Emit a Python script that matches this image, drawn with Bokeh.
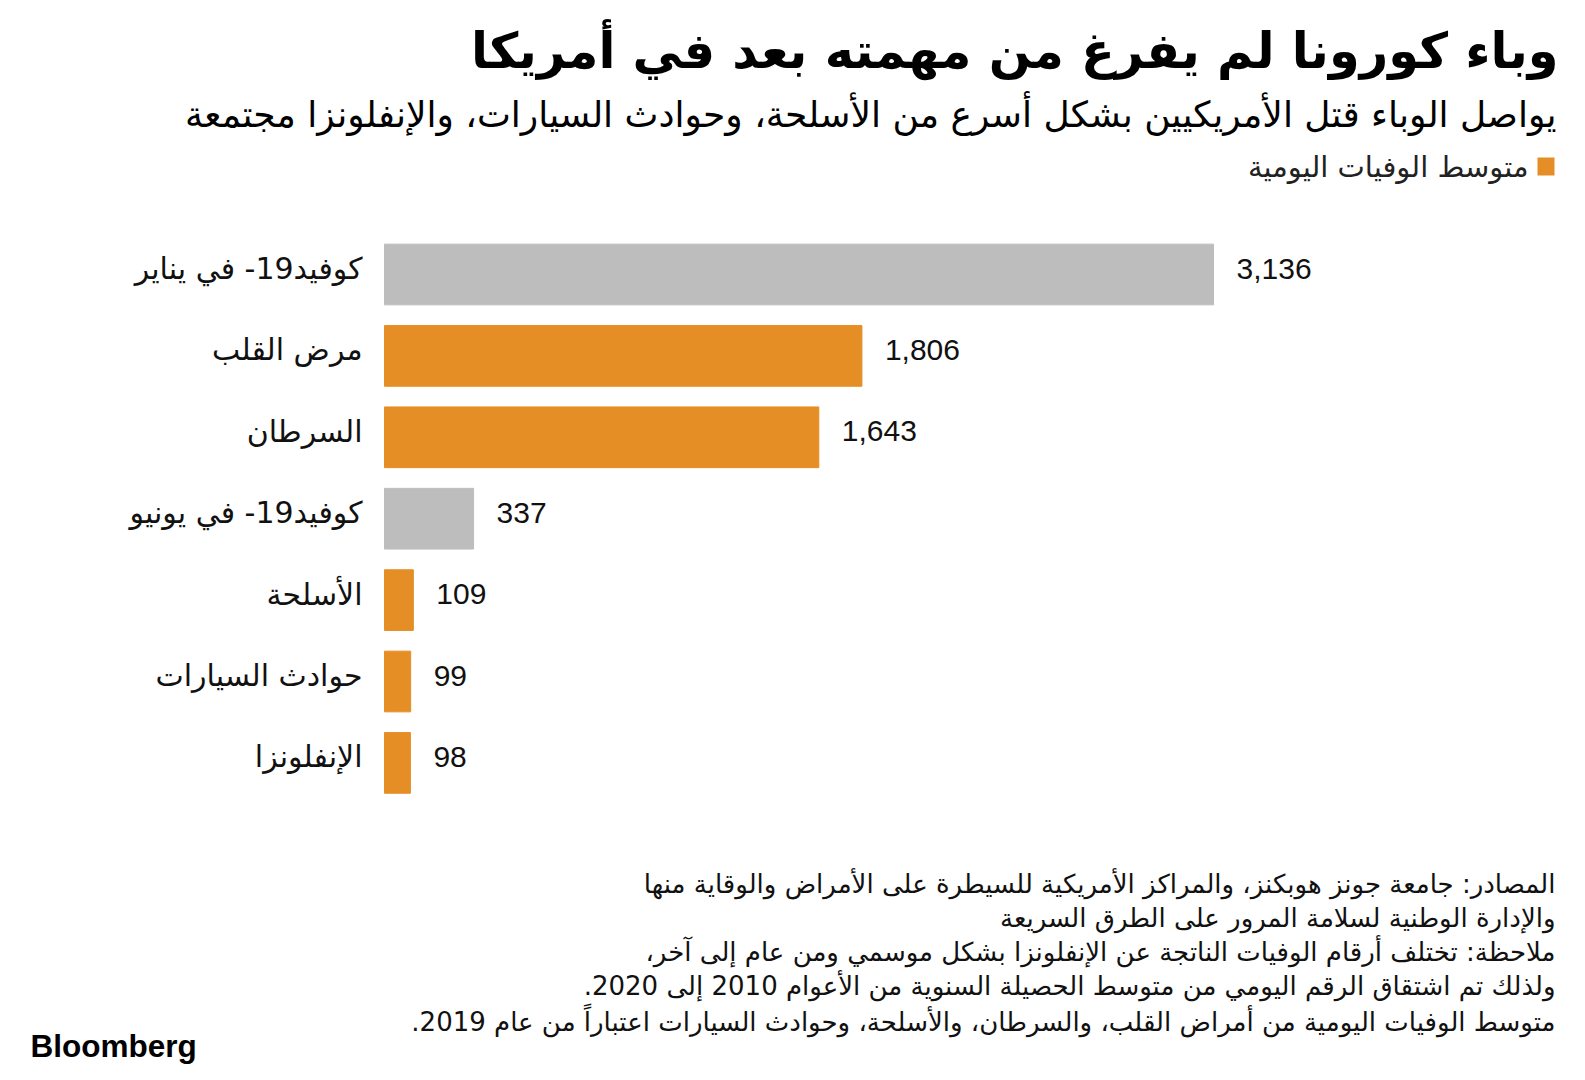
from bokeh.plotting import figure
from bokeh.models import Range1d, Label, BoxAnnotation, ColumnDataSource
from bokeh.core.properties import value
from bokeh.embed import file_html
from bokeh.resources import INLINE

# ---- data ----
categories = ["كوفيد19- في يناير", "مرض القلب", "السرطان", "كوفيد19- في يونيو",
              "الأسلحة", "حوادث السيارات", "الإنفلونزا"]
deaths = [3136, 1806, 1643, 337, 109, 99, 98]
is_covid = [True, False, False, True, False, False, False]

title = "وباء كورونا لم يفرغ من مهمته بعد في أمريكا"
subtitle = "يواصل الوباء قتل الأمريكيين بشكل أسرع من الأسلحة، وحوادث السيارات، والإنفلونزا مجتمعة"
legend_label = "متوسط الوفيات اليومية"
footnotes = [
    "المصادر: جامعة جونز هوبكنز، والمراكز الأمريكية للسيطرة على الأمراض والوقاية منها",
    "والإدارة الوطنية لسلامة المرور على الطرق السريعة",
    "ملاحظة: تختلف أرقام الوفيات الناتجة عن الإنفلونزا بشكل موسمي ومن عام إلى آخر،",
    "ولذلك تم اشتقاق الرقم اليومي من متوسط الحصيلة السنوية من الأعوام 2010 إلى 2020.",
    "متوسط الوفيات اليومية من أمراض القلب، والسرطان، والأسلحة، وحوادث السيارات اعتباراً من عام 2019.",
]
brand = "Bloomberg"

ORANGE = "#E58E26"
GRAY = "#BDBDBD"
ARABIC = "DejaVu Sans"

def rtl(s):
    return "\u200f" + s + "\u200f"

# ---- layout (page pixels) ----
W, H = 1577, 1072
BAR_X0 = 384          # pixel where value 0 sits
PX_PER_UNIT = 0.26435 # horizontal scale
ROW0 = 274            # centre of first row
ROW_STEP = 81.4       # row pitch

x_range = Range1d(-BAR_X0 / PX_PER_UNIT, (W - BAR_X0) / PX_PER_UNIT)
# rows indexed 0..n-1 from top; inverted range
y_range = Range1d((H - ROW0) / ROW_STEP, (0 - ROW0) / ROW_STEP)

p = figure(width=W, height=H, output_backend="svg", toolbar_location=None,
           x_range=x_range, y_range=y_range, min_border=0,
           x_axis_location=None, y_axis_location=None)
p.outline_line_color = None
p.grid.visible = False
p.background_fill_color = "white"
p.border_fill_color = "white"

src = ColumnDataSource(dict(
    row=list(range(len(categories))), cat=categories, val=deaths,
    zero=[0] * len(deaths),
    color=[GRAY if c else ORANGE for c in is_covid],
    lab=[f"{v:,}" for v in deaths],
))
p.hbar(y="row", right="val", left=0, height=60.7 / ROW_STEP, color="color", source=src)
p.text(x="val", y="row", text="lab", source=src, x_offset=23, y_offset=-6,
       text_baseline="middle", text_align="left", text_font=value("Liberation Sans"),
       text_font_size="30px", text_color="#111111")
p.text(x="zero", y="row", text="cat", source=src, x_offset=-22, y_offset=-6,
       text_baseline="middle", text_align="right", text_font=value(ARABIC),
       text_font_size="30px", text_color="#111111")

def add_label(text, px, py, size, align="right", baseline="middle", font=ARABIC,
              style="normal", color="#000000"):
    p.add_layout(Label(x=px, y=H - py, x_units="screen", y_units="screen", text=text,
                       text_font=font, text_font_size=size, text_font_style=style,
                       text_align=align, text_baseline=baseline, text_color=color))

add_label(rtl(title), 1558, 50, "49.5px", style="bold")
add_label(rtl(subtitle), 1556, 114, "36px")
add_label(rtl(legend_label), 1528, 166, "29px", color="#222222")
p.add_layout(BoxAnnotation(left=1537, right=1554, top=H - 157, bottom=H - 175,
                           left_units="screen", right_units="screen", top_units="screen",
                           bottom_units="screen", fill_color=ORANGE, fill_alpha=1,
                           line_color=None))

foot_y = [883, 917, 951, 985, 1021]
for t, y in zip(footnotes, foot_y):
    add_label(rtl(t), 1555, y, "26px", color="#111111")

add_label(brand, 30, 1045, "31.5px", align="left", baseline="middle",
          font="Liberation Sans", style="bold")

open("out.html", "w").write(file_html(p, INLINE))
